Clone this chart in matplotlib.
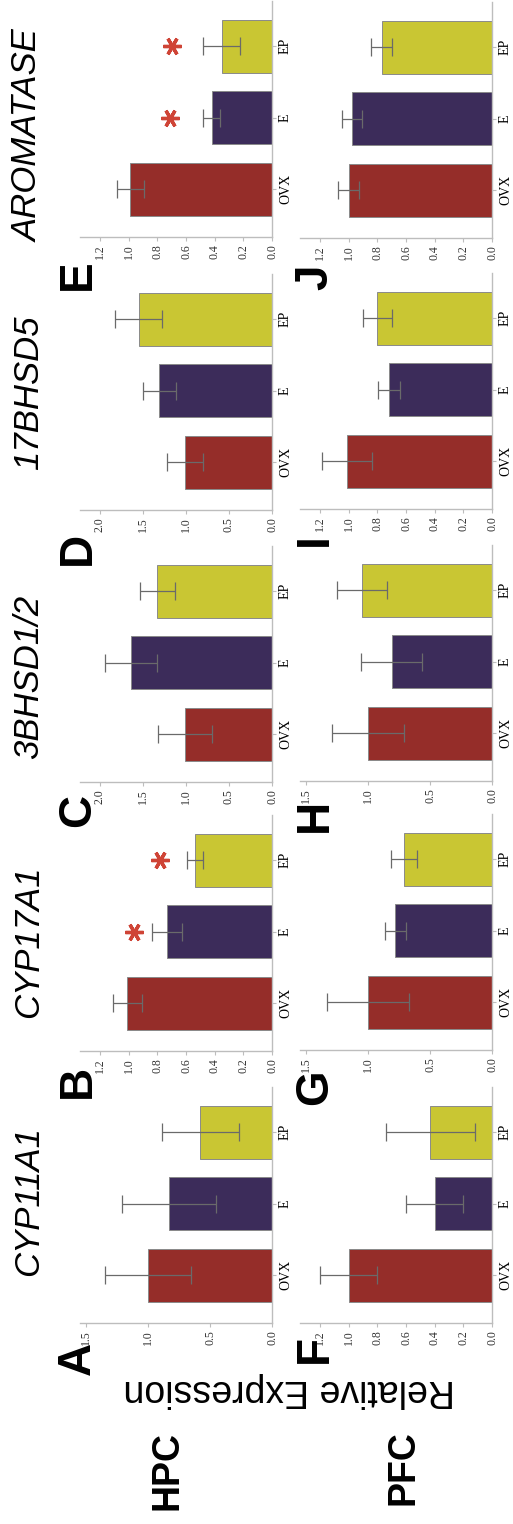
import matplotlib
matplotlib.use('Agg')
import matplotlib.pyplot as plt
import numpy as np

W, H, DPI = 513, 1524, 100

groups = ['OVX', 'E', 'EP']
bar_colors = ['#952d29', '#3c2c5a', '#c9c633']
genes = ['CYP11A1', 'CYP17A1', '3BHSD1/2', '17BHSD5', 'AROMATASE']
regions = ['HPC', 'PFC']
letters_hpc = ['A', 'B', 'C', 'D', 'E']
letters_pfc = ['F', 'G', 'H', 'I', 'J']

# mean relative expression (OVX, E, EP) per gene
hpc_mean = [[1.00, 0.83, 0.58],
            [1.01, 0.73, 0.54],
            [1.01, 1.64, 1.33],
            [1.01, 1.31, 1.55],
            [0.99, 0.42, 0.35]]
hpc_sem = [[0.35, 0.38, 0.31],
           [0.10, 0.105, 0.055],
           [0.31, 0.30, 0.20],
           [0.21, 0.19, 0.27],
           [0.095, 0.06, 0.13]]
pfc_mean = [[1.00, 0.40, 0.43],
            [1.00, 0.78, 0.71],
            [1.00, 0.81, 1.05],
            [1.01, 0.72, 0.80],
            [1.00, 0.98, 0.77]]
pfc_sem = [[0.20, 0.20, 0.31],
           [0.33, 0.085, 0.105],
           [0.29, 0.245, 0.20],
           [0.175, 0.075, 0.10],
           [0.075, 0.07, 0.075]]

# axis tick maxima and steps
hpc_tick_max = [1.5, 1.2, 2.0, 2.0, 1.2]
hpc_tick_step = [0.5, 0.2, 0.5, 0.5, 0.2]
pfc_tick_max = [1.2, 1.5, 1.5, 1.2, 1.2]
pfc_tick_step = [0.2, 0.5, 0.5, 0.2, 0.2]
axis_limit = {1.2: 1.34, 1.5: 1.55, 2.0: 2.23}

# significance asterisks (HPC row): panel index, group index, value position
star_panel = [1, 1, 4, 4]
star_group = [1, 2, 1, 2]
star_value = [0.96, 0.78, 0.71, 0.70]

# ---- layout (pixels in the final portrait image) ----
hpc_axis_y = [1323, 1051, 782, 510, 237]
pfc_axis_y = [1323, 1050, 781, 509, 238]
col_x0 = [80, 300]
ax_w, ax_h = 192, 236
spine_col = '#bdbdbd'

fig = plt.figure(figsize=(W / DPI, H / DPI), dpi=DPI)


def fx(px):
    return px / W


def fy(py):
    return 1 - py / H


def make_panel(x0, ybot, means, sems, tmax, tstep):
    ax = fig.add_axes([fx(x0), fy(ybot), ax_w / W, ax_h / H])
    ax.barh(range(3), means, height=0.74, color=bar_colors,
            edgecolor='#8a8a8a', linewidth=0.7, zorder=2)
    ax.errorbar(means, range(3), xerr=sems, fmt='none', ecolor='#6a6a6a',
                elinewidth=0.9, capsize=6.5, capthick=0.9, zorder=3)
    ax.set_xlim(axis_limit[tmax], 0)
    ax.set_ylim(-0.67, 2.63)
    for s in ['left', 'top']:
        ax.spines[s].set_visible(False)
    for s in ['right', 'bottom']:
        ax.spines[s].set_color(spine_col)
        ax.spines[s].set_linewidth(1.0)
    ax.yaxis.tick_right()
    ax.set_yticks(range(3))
    ax.set_yticklabels(groups, rotation=90, va='center',
                       fontfamily='Liberation Serif', fontsize=10)
    ticks = np.round(np.arange(0, tmax + 1e-9, tstep), 2)
    ax.set_xticks(ticks)
    ax.set_xticklabels(['%.1f' % t for t in ticks], rotation=90,
                       fontfamily='Liberation Serif', fontsize=8.5,
                       color='#333333')
    ax.tick_params(axis='both', length=3, width=0.8, color=spine_col, pad=2)
    ax.set_facecolor('none')
    return ax


hpc_axes = []
for i in range(5):
    hpc_axes.append(make_panel(col_x0[0], hpc_axis_y[i], hpc_mean[i], hpc_sem[i],
                               hpc_tick_max[i], hpc_tick_step[i]))
pfc_axes = []
for i in range(5):
    pfc_axes.append(make_panel(col_x0[1], pfc_axis_y[i], pfc_mean[i], pfc_sem[i],
                               pfc_tick_max[i], pfc_tick_step[i]))

for p, g, v in zip(star_panel, star_group, star_value):
    hpc_axes[p].plot([v], [g], marker=(6, 2, 90), markersize=13,
                     markeredgewidth=2.4, color='#cf4436', zorder=4,
                     clip_on=False)

sans = 'Liberation Sans'

# gene titles (HPC row only)
title_y = [1201, 942, 677, 393, 136]
for g, ty in zip(genes, title_y):
    fig.text(fx(38), fy(ty), g, rotation=90, rotation_mode='anchor',
             ha='center', va='baseline', fontsize=25, style='italic',
             family=sans)

# panel letters
hpc_letter_y = [1358, 1081, 810, 548, 275]
pfc_letter_y = [1349, 1087, 815, 540, 277]
for L, ly in zip(letters_hpc, hpc_letter_y):
    fig.text(fx(90), fy(ly), L, rotation=90, rotation_mode='anchor',
             ha='center', va='baseline', fontsize=33, fontweight='bold',
             family=sans)
for L, ly in zip(letters_pfc, pfc_letter_y):
    fig.text(fx(327), fy(ly), L, rotation=90, rotation_mode='anchor',
             ha='center', va='baseline', fontsize=33, fontweight='bold',
             family=sans)

# row labels
fig.text(fx(177), fy(1471), regions[0], rotation=90, rotation_mode='anchor',
         ha='center', va='baseline', fontsize=27, fontweight='bold', family=sans)
fig.text(fx(413), fy(1468), regions[1], rotation=90, rotation_mode='anchor',
         ha='center', va='baseline', fontsize=27, fontweight='bold', family=sans)

# shared y label
fig.text(fx(289), fy(1380), 'Relative Expression', rotation=180,
         rotation_mode='anchor', ha='center', va='baseline', fontsize=27,
         family=sans)

fig.savefig('out.png', dpi=DPI)
